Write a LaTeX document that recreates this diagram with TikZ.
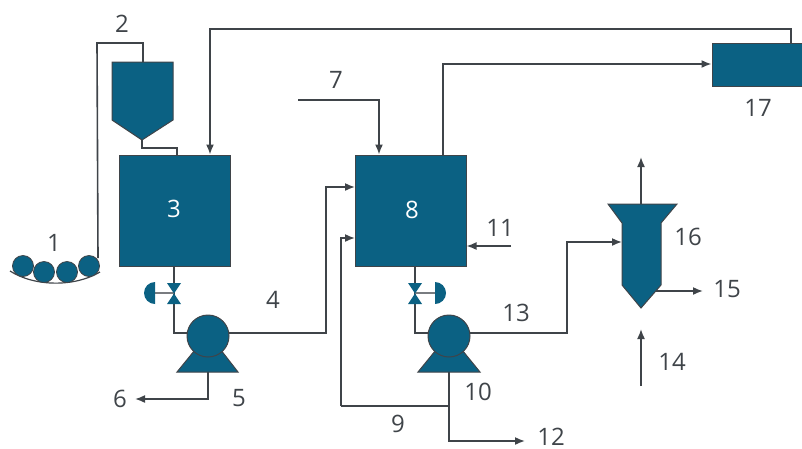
\documentclass[tikz,border=0pt]{standalone}
\usepackage{fontspec}
\setmainfont{Open Sans}
\usetikzlibrary{arrows.meta}
\definecolor{teal1}{HTML}{0B6183}
\definecolor{line1}{HTML}{3F4449}
\tikzset{
 unit/.style={draw=line1,fill=teal1,line width=1pt,inner sep=0pt,rectangle},
 shapefill/.style={draw=line1,fill=teal1,line width=1pt,line join=miter},
 pipe/.style={draw=line1,line width=1.6pt,line join=miter},
 flow/.style={pipe,-{Latex[length=10pt,width=8pt]}},
 lab/.style={font=\fontsize{24}{24}\selectfont,text=line1,inner sep=0pt},
 inlab/.style={lab,text=white},
 pumpc/.style={circle,draw=line1,fill=teal1,line width=1pt,inner sep=0pt,minimum size=42pt},
 roller/.style={circle,draw=line1,fill=teal1,line width=.8pt,inner sep=0pt,minimum size=21pt},
 valvefill/.style={fill=teal1,draw=none},
 stem/.style={draw=line1!70,line width=2pt},
}
\begin{document}
\begin{tikzpicture}[x=1pt,y=-1pt]
\useasboundingbox (0,0) rectangle (802,448);
% coordinates
\coordinate (belt) at (98,258);
\coordinate (b2a) at (97,43);
\coordinate (hopin) at (143,62);
\coordinate (hoptip) at (142,140);
\coordinate (feed3) at (177,148);
\coordinate (rec3) at (210,29);
\coordinate (rec17) at (791,29);
\coordinate (v1) at (174,293);
\coordinate (a1) at (155,293);
\coordinate (v2) at (415,293);
\coordinate (a2) at (435,293);
\coordinate (p4corner) at (326,333);
\coordinate (in8a) at (355,187);
\coordinate (in8b) at (355,238);
\coordinate (s7) at (298,100);
\coordinate (c7) at (379,100);
\coordinate (s11) at (511,246);
\coordinate (e6) at (135,399);
\coordinate (base5) at (208,372);
\coordinate (base10) at (449,372);
\coordinate (out5) at (208,333);
\coordinate (out10) at (449,333);
\coordinate (j9) at (449,406);
\coordinate (c9) at (341,406);
\coordinate (e12) at (525,441);
\coordinate (c13) at (567,333);
\coordinate (in16) at (622,242);
\coordinate (top16) at (641,204);
\coordinate (up16) at (641,157);
\coordinate (s15) at (656,291);
\coordinate (e15) at (703,291);
\coordinate (s14) at (641,386);
\coordinate (e14) at (641,329);
\coordinate (up8) at (443,64);
% boxes
\node[unit,minimum width=111pt,minimum height=111pt] (box3) at (174.5,210.5) {};
\node[unit,minimum width=111pt,minimum height=111pt] (box8) at (410.5,210.5) {};
\node[unit,minimum width=100pt,minimum height=43pt] (box17) at (762,64.5) {};
% pipes
\draw[pipe] (belt) -- (b2a) -- (hopin |- b2a) -- (hopin);
\draw[pipe] (hoptip) -- (hoptip |- feed3) -- (feed3) -- (feed3 |- box3.north);
\draw[flow] (rec17 |- box17.north) -- (rec17) -- (rec3) -- (rec3 |- box3.north);
\draw[flow] (up8 |- box8.north) -- (up8) -- (up8 -| box17.west);
\draw[flow] (s7) -- (c7) -- (c7 |- box8.north);
\draw[flow] (s11) -- (s11 -| box8.east);
% valves and pumps lines
\draw[pipe] (v1 |- box3.south) -- (v1 |- p4corner) -- (out5);
\draw[pipe] (v2 |- box8.south) -- (v2 |- p4corner) -- (out10);
\draw[flow] (out5) -- (p4corner) -- (p4corner |- in8a) -- (in8a);
\draw[flow] (out10) -- (c13) -- (c13 |- in16) -- (in16);
\draw[flow] (base5) -- (base5 |- e6) -- (e6);
\draw[pipe] (j9) -- (c9);
\draw[flow] (c9) -- (c9 |- in8b) -- (in8b);
\draw[flow] (base10) -- (base10 |- e12) -- (e12);
\draw[flow] (top16) -- (up16);
\draw[flow] (s15) -- (e15);
\draw[flow] (s14) -- (e14);
% hopper
\filldraw[shapefill] (112,62) -- (173,62) -- (173,120) -- (hoptip) -- (112,120) -- cycle;
% column
\filldraw[shapefill] (608,204) -- (677,204) -- (661,223) -- (661,285) -- (641,308) -- (622,285) -- (622,223) -- cycle;
% pumps
\filldraw[shapefill] (177,372) -- (199,345) -- (217,345) -- (238,372) -- cycle;
\node[pumpc] (pump5) at (208,336) {};
\filldraw[shapefill] (418,372) -- (440,345) -- (458,345) -- (480,372) -- cycle;
\node[pumpc] (pump10) at (449,336) {};
% valves
\draw[stem] (a1) -- (v1);
\draw[stem] (a2) -- (v2);
\fill[valvefill] (167,283) -- (181,283) -- (167,304) -- (181,304) -- cycle;
\fill[valvefill] (408,283) -- (422,283) -- (408,304) -- (422,304) -- cycle;
\fill[valvefill] (155,304) arc[start angle=90,end angle=270,radius=11] -- cycle;
\fill[valvefill] (435,304) arc[start angle=90,end angle=-90,radius=11] -- cycle;
% belt
\draw[line1,line width=1.2pt] (10,271) .. controls (35,287) and (75,287) .. (100,272);
\node[roller] (r1) at (23,266) {};
\node[roller] (r2) at (44,272) {};
\node[roller] (r3) at (67,272) {};
\node[roller] (r4) at (89,266) {};
% labels
\node[lab] (l1) at (54,243) {1};
\node[lab] (l2) at (122,24) {2};
\node[inlab] (l3) at (174,209) {3};
\node[lab] (l4) at (273,300) {4};
\node[lab] (l5) at (239,398) {5};
\node[lab] (l6) at (120,399) {6};
\node[lab] (l7) at (336,80) {7};
\node[inlab] (l8) at (412,210) {8};
\node[lab] (l9) at (398,424) {9};
\node[lab] (l10) at (478,392) {10};
\node[lab] (l11) at (500,228) {11};
\node[lab] (l12) at (551,436.5) {12};
\node[lab] (l13) at (516,313) {13};
\node[lab] (l14) at (672,362) {14};
\node[lab] (l15) at (727,289) {15};
\node[lab] (l16) at (688,237) {16};
\node[lab] (l17) at (758,108) {17};
\end{tikzpicture}
\end{document}
